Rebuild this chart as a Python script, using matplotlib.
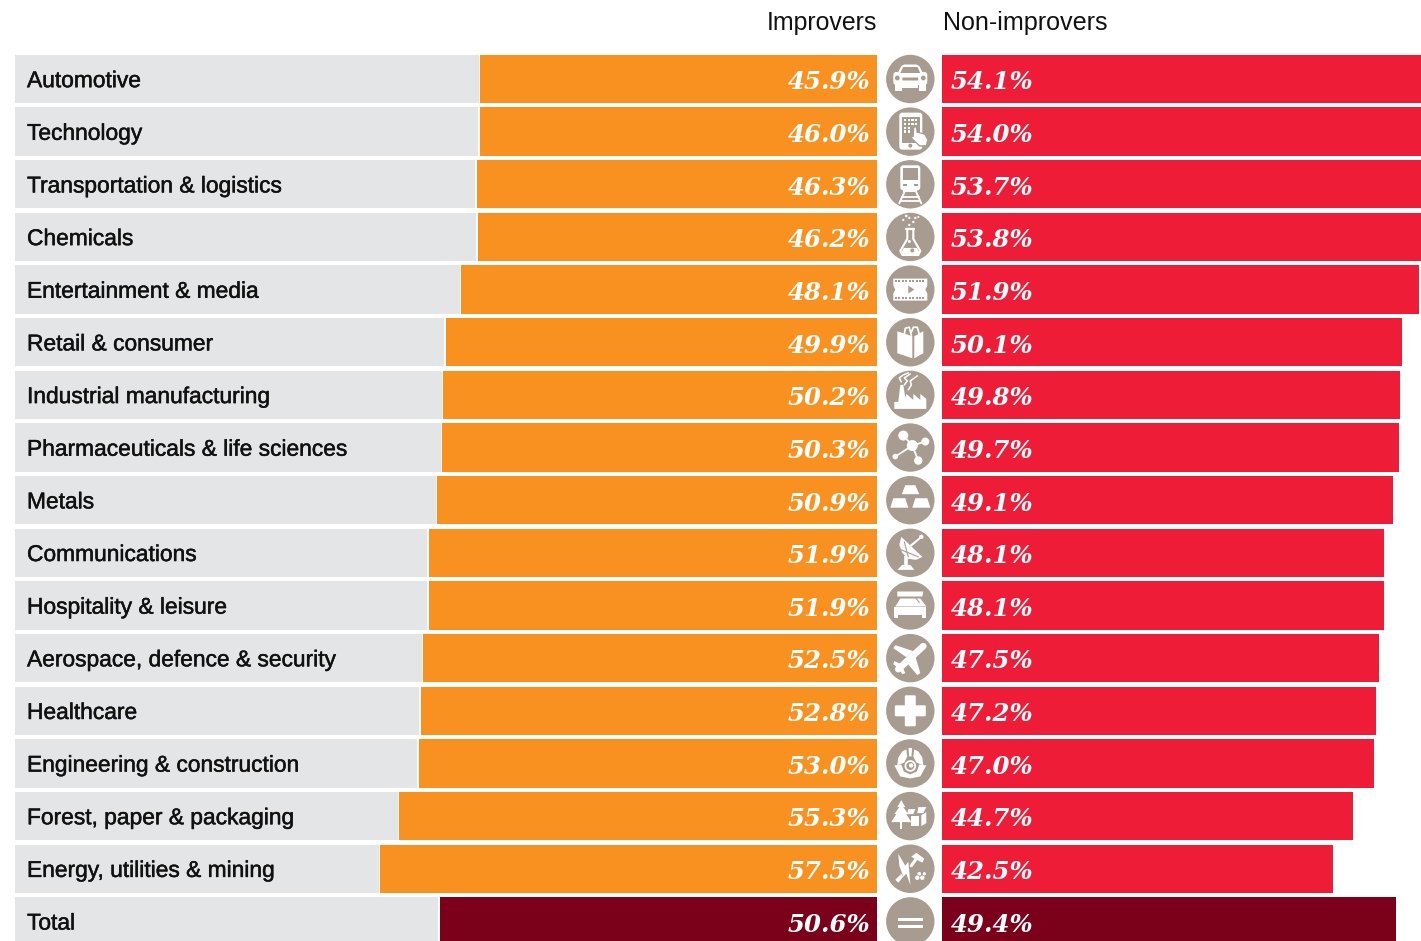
import matplotlib
matplotlib.use("Agg")
import matplotlib.pyplot as plt
import matplotlib.patheffects as pe
from matplotlib.patches import Circle, Polygon, Rectangle, FancyBboxPatch
from matplotlib.transforms import Affine2D

categories = ["Automotive", "Technology", "Transportation & logistics", "Chemicals",
              "Entertainment & media", "Retail & consumer", "Industrial manufacturing",
              "Pharmaceuticals & life sciences", "Metals", "Communications",
              "Hospitality & leisure", "Aerospace, defence & security", "Healthcare",
              "Engineering & construction", "Forest, paper & packaging",
              "Energy, utilities & mining", "Total"]
improvers = [45.9, 46.0, 46.3, 46.2, 48.1, 49.9, 50.2, 50.3, 50.9, 51.9, 51.9, 52.5, 52.8, 53.0, 55.3, 57.5, 50.6]
non_improvers = [54.1, 54.0, 53.7, 53.8, 51.9, 50.1, 49.8, 49.7, 49.1, 48.1, 48.1, 47.5, 47.2, 47.0, 44.7, 42.5, 49.4]
header_left = "Improvers"
header_right = "Non-improvers"

W, H = 1421, 941
PITCH = 52.65
Y0 = 79.0
ORANGE, RED, DARK, GREY, ICON = "#F99120", "#EF1C37", "#7B001A", "#E4E5E7", "#A89C91"
SANS = "Liberation Sans"
SERIF = "DejaVu Serif"

fig = plt.figure(figsize=(W / 100, H / 100), dpi=100, facecolor="white")

def axes_px(x0, x1):
    ax = fig.add_axes([x0 / W, 0, (x1 - x0) / W, 1])
    ax.set_ylim((H - Y0) / PITCH, -Y0 / PITCH)
    ax.axis("off")
    return ax

PX_L, PX_R = 8.64, 9.19
ax_l = axes_px(15, 877)
ax_l.set_xlim(862 / PX_L, 0)
ax_m = axes_px(877, 942)
ax_m.set_xlim(0, 65 / PITCH)
ax_r = axes_px(942, 1421)
ax_r.set_xlim(0, 479 / PX_R)

n = len(categories)
ypos = list(range(n))
bar_h = 48.3 / PITCH
left_cols = [ORANGE] * (n - 1) + [DARK]
right_cols = [RED] * (n - 1) + [DARK]
GAP = 1.6 / PX_L

ax_l.barh(ypos, [862 / PX_L] * n, height=bar_h, color=GREY, linewidth=0)
ax_l.barh(ypos, [v + GAP for v in improvers], height=bar_h, color="white", linewidth=0)
ax_l.barh(ypos, improvers, height=bar_h, color=left_cols, linewidth=0)
ax_r.barh(ypos, non_improvers, height=bar_h, color=right_cols, linewidth=0)

VAL_FS = 17.6
LAB_FS = 16.4
stroke = [pe.withStroke(linewidth=0.35, foreground="#111111")]
for i, (c, a, b) in enumerate(zip(categories, improvers, non_improvers)):
    ax_l.annotate(c, xy=(0, i), xycoords=("axes fraction", "data"), xytext=(12 * .72, 0.6),
                  textcoords="offset points", ha="left", va="center_baseline", fontsize=LAB_FS,
                  family=SANS, color="#111111", path_effects=stroke)
    ax_l.annotate(f"{a:.1f}%", xy=(0, i), xytext=(-7 * .72, -0.6), textcoords="offset points",
                  ha="right", va="center_baseline", fontsize=VAL_FS, family=SERIF, weight="bold",
                  style="italic", color="white")
    ax_r.annotate(f"{b:.1f}%", xy=(0, i), xytext=(9 * .72, -0.6), textcoords="offset points",
                  ha="left", va="center_baseline", fontsize=VAL_FS, family=SERIF, weight="bold",
                  style="italic", color="white")

fig.text(877 / W, 1 - 23 / H, header_left, ha="right", va="center", fontsize=17.9, family=SANS, color="#111111")
fig.text(943 / W, 1 - 23 / H, header_right, ha="left", va="center", fontsize=18.1, family=SANS, color="#111111")

# ---- pictograms: offsets in pixels from the circle centre, y downward ----
CX = (910.3 - 877) / PITCH
W_, G_ = "white", ICON

def glyph(i):
    tr = Affine2D().scale(1 / PITCH).translate(CX, i) + ax_m.transData
    def add(p):
        p.set_transform(tr); p.set_clip_on(False); ax_m.add_patch(p); return p
    def P(pts, c=W_): add(Polygon(pts, closed=True, fc=c, ec="none"))
    def O(pts, c=W_, lw=1.2): add(Polygon(pts, closed=True, fc="none", ec=c, lw=lw))
    def C(x, y, r, c=W_): add(Circle((x, y), r, fc=c, ec="none"))
    def R(x, y, w, h, c=W_): add(Rectangle((x, y), w, h, fc=c, ec="none"))
    def L(pts, c=W_, lw=1.2, cap="round"):
        return ax_m.plot([p[0] for p in pts], [p[1] for p in pts], color=c, lw=lw,
                         solid_capstyle=cap, transform=tr, clip_on=False)[0]
    def RR(x, y, w, h, r, c=W_):
        add(FancyBboxPatch((x + r, y + r), w - 2 * r, h - 2 * r, boxstyle=f"round,pad={r}",
                           fc=c, ec="none"))
    return P, O, C, R, L, RR

def car(P, O, C, R, L, RR):
    P([(-13, -5), (-9, -13), (-6, -14.5), (6, -14.5), (9, -13), (13, -5)])
    RR(-17, -7, 34, 13, 3)
    R(-15.5, 5, 7, 7); R(8.5, 5, 7, 7); R(-8, 6.5, 16, 2.2)
    P([(-10, -6), (-7, -12), (7, -12), (10, -6)], G_)
    C(-13, -1, 2.4, G_); C(13, -1, 2.4, G_)
    RR(-8, -1.5, 16, 3, 1, G_)

def tablet(P, O, C, R, L, RR):
    RR(-11, -19, 23, 37, 3)
    R(-8.5, -15, 18, 26, G_)
    for x in range(4):
        for y in range(4):
            if not (x >= 2 and y >= 2):
                R(-6.5 + x * 3.7, -12.5 + y * 3.7, 2.3, 2.3)
    C(0, 14, 2, G_)
    P([(3, -5), (6, -5), (7, 0), (15, 2), (18, 8), (16, 15), (9, 15), (0, 6), (3, 4)], G_)
    P([(4, -4), (5.6, -4), (6.2, 1), (14, 3), (16.8, 8), (15.5, 13.5), (9.5, 13.5), (1.5, 6), (3.5, 5)])

def train(P, O, C, R, L, RR):
    RR(-10, -19, 20, 25, 3)
    R(-7.5, -16, 15, 12, G_)
    R(-7.5, -0.5, 4, 2, G_); R(3.5, -0.5, 4, 2, G_)
    R(-7, 6, 14, 2)
    L([(-6, 8), (-11, 19)], lw=1.4); L([(6, 8), (11, 19)], lw=1.4)
    L([(-8.5, 12.5), (8.5, 12.5)], lw=1.3); L([(-10, 16.5), (10, 16.5)], lw=1.3)

def flask(P, O, C, R, L, RR):
    O([(-3, -8), (-3, 2), (-10, 14), (-8, 18), (8, 18), (10, 14), (3, 2), (3, -8)], lw=1.5)
    L([(-4, -8), (4, -8)], lw=1.6)
    P([(-6.5, 11), (6.5, 11), (9, 15), (7.5, 17), (-7.5, 17), (-9, 15)])
    C(2, 13.5, 2, G_); C(-1, 4.5, 1.5)
    for x, y, r in [(-4, -21, 1.3), (-1, -19, 1.1), (5, -19, 1.2), (-7, -17, 1.1), (3, -15, 1.2), (-1, -12, 1.2), (8, -20, 1)]:
        C(x, y, r)

def film(P, O, C, R, L, RR):
    P([(-17, -11), (17, -11), (17, -4), (15, 0), (17, 4), (17, 11), (-17, 11), (-17, 4), (-15, 0), (-17, -4)])
    for k in range(9):
        R(-15.5 + k * 3.45, -9.5, 2, 2.4, G_); R(-15.5 + k * 3.45, 7, 2, 2.4, G_)
    P([(-2, -4), (4, 0), (-2, 4)], G_)

def bag(P, O, C, R, L, RR):
    P([(-13, -11), (2, -6), (2, 16), (-13, 11)])
    P([(4, -6), (13, -11), (13, 11), (4, 16)])
    L([(-6, -8), (-5, -14), (-1, -15), (1, -7)], lw=1.2)
    L([(1, -10), (3, -15), (7, -15), (9, -8)], lw=1.2)

def factory(P, O, C, R, L, RR):
    P([(-16, 14), (-16, 7), (-12, 7), (-10, -10), (-7, -10), (-5, 3), (-4, -1), (3, 5), (3, -1), (10, 5), (10, -1), (16, 4), (16, 14)])
    L([(-9, -13), (-11, -17), (-7, -20), (-2, -22)], lw=1.1)
    L([(-6, -10), (-3, -14), (-6, -17), (0, -21)], lw=1.1)
    L([(-2, -5), (1, -10), (0, -14), (7, -19)], lw=1.1)

def molecule(P, O, C, R, L, RR):
    for x, y in [(-7, -12), (15, -6), (8, 13), (-15, 9)]:
        L([(2, -2), (x, y)], lw=1.3)
    C(-7, -12, 5); C(2, -2, 5.5); C(15, -6, 4); C(8, 13, 4.2); C(-15, 9, 2.8)

def metals(P, O, C, R, L, RR):
    P([(-8.5, -6), (-5, -15), (5, -15), (9, -6)])
    P([(-20, 7.5), (-17, -2), (-5, -2), (-2, 7.5)])
    P([(2, 7.5), (5, -2), (17, -2), (20, 7.5)])

def dish(P, O, C, R, L, RR):
    P([(-9, -16), (-11, -8), (-8, 0), (-2, 6), (6, 7), (12, 4)])
    L([(-1, -6), (10, -15)], lw=1.5); C(11, -16, 2.2)
    L([(-4, 3), (-4, 13)], lw=2.6, cap="butt")
    P([(-13, 17), (-8, 12), (0, 12), (4, 17)])
    L([(-6, -11), (-2, 4)], G_, 0.8); L([(-9, -3), (8, 4)], G_, 0.8)

def bed(P, O, C, R, L, RR):
    P([(-13, -14), (13, -14), (12, -9), (-13, -9)])
    P([(-10, -7), (10, -7), (16, 1), (-15, 1)])
    R(-16, 2, 32, 8); R(-16, 10, 4, 3); R(12, 10, 4, 3)
    L([(6, -7), (9, -3)], G_, 0.8)

def plane(P, O, C, R, L, RR):
    L([(13, -12), (-12, 11)], lw=4.8)
    P([(3, -7), (-15, -13), (-17, -10), (-4, -1)])
    P([(5, -2), (10, 15), (7, 17), (-3, 5)])
    P([(-9, 6), (-16, 3), (-17, 6), (-12, 10)])
    P([(-8, 8), (-5, 15), (-8, 16), (-12, 10)])

def cross(P, O, C, R, L, RR):
    RR(-5.5, -15.5, 11, 31, 1.2); RR(-15.5, -5.5, 31, 11, 1.2)

def helmet(P, O, C, R, L, RR):
    P([(-12, -6), (-8, -12), (-4, -14), (-3, -7), (-6, -1), (-13, 2)])
    P([(12, -6), (8, -12), (4, -14), (3, -7), (6, -1), (13, 2)])
    P([(-1.8, -15.5), (1.8, -15.5), (1.2, -7), (-1.2, -7)])
    P([(-16, 2), (-9, 1), (-6.5, 8), (0, 11), (6.5, 8), (9, 1), (16, 2), (10, 13), (0, 15), (-10, 13)])
    C(0, 2.5, 5.8); C(0, 2.5, 4, G_); C(0.8, 2, 2.2)

def forest(P, O, C, R, L, RR):
    P([(-9, -16), (-5, -9), (-7, -9), (-2, -2), (-4, -2), (1, 6), (-19, 6), (-14, -2), (-16, -2), (-11, -9), (-13, -9)])
    R(-10, 6, 1.8, 7)
    P([(-2, -7), (5, -7), (3, -2), (-3, -2)]); P([(8, -9), (16, -9), (13, -3), (7, -3)])
    P([(1, 0), (9, 0), (9, 10), (1, 10)]); P([(11, -1), (16, -4), (16, 7), (11, 10)])

def energy(P, O, C, R, L, RR):
    P([(-12, -15), (-5, -3), (-2, -7), (-1, 3), (0, 16), (-4, 5), (-7, 8), (-11, -3)])
    P([(-15, 11), (-9, 5), (-7, 8), (-12, 14)])
    P([(1, -12), (6, -16), (14, -10), (12, -6)])
    L([(6, -10), (1, -3)], lw=2.2)
    C(7, 9, 2.2); C(12, 9, 2.2); C(9, 5, 1.8); C(14, 5, 1.6)

def equals(P, O, C, R, L, RR):
    R(-12.3, -3.5, 24.6, 2.6); R(-12.3, 4, 24.6, 2.6)

icons = [car, tablet, train, flask, film, bag, factory, molecule, metals, dish, bed, plane,
         cross, helmet, forest, energy, equals]
for i, fn in enumerate(icons):
    ax_m.add_patch(Circle((CX, i), 24.2 / PITCH, fc=ICON, ec="none", clip_on=False))
    fn(*glyph(i))
ax_m.set_xlim(0, 65 / PITCH)
ax_m.set_ylim((H - Y0) / PITCH, -Y0 / PITCH)

fig.savefig("out.png", dpi=100, facecolor="white")
